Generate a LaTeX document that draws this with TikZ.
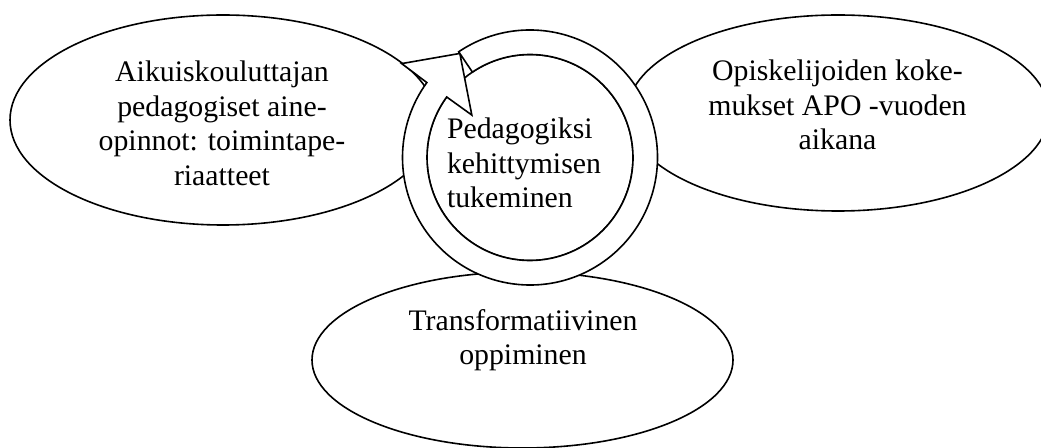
\documentclass[tikz,border=0pt]{standalone}
\usepackage{fontspec}
\setmainfont{Liberation Serif}
\usetikzlibrary{shapes.geometric}

\begin{document}
\begin{tikzpicture}[x=1pt,y=1pt,inner sep=0pt,outer sep=0pt,line width=1.6pt,
bubble/.style={draw,ellipse,fill=white},
caption/.style={align=center,font=\fontsize{29.8}{34.5}\selectfont}]

\useasboundingbox (0,0) rectangle (1041,447);
\clip (0,0) rectangle (1041,447);

\node[bubble,minimum width=426,minimum height=210] (adult) at (223,327) {};
\node[bubble,minimum width=422,minimum height=196] (student) at (838,334) {};
\node[bubble,minimum width=421,minimum height=176] (transform) at (522.5,87) {};

\node[caption] (adulttext) at (222,323.5) {Aikuiskouluttajan\\pedagogiset aine-\\opinnot: toimintape-\\riaatteet};
\node[caption] (studenttext) at (837.5,342) {Opiskelijoiden koke-\\mukset APO -vuoden\\aikana};
\node[caption] (transformtext) at (523,107) {Transformatiivinen\\oppiminen};

% circular arrow round the core
\node[draw,circle,fill=white,minimum size=206] (core) at (530,289.5) {};
\draw[fill=white] ([shift={(124:127.5)}]core.center) arc[start angle=124,end angle=-216,radius=127.5]
  -- ([shift={(143.8:159)}]core.center) -- ([shift={(124:125.5)}]core.center)
  -- ([shift={(143.9:72)}]core.center) -- ([shift={(144:103)}]core.center)
  arc[start angle=-216,end angle=124,radius=103] -- cycle;

\node[caption,align=left,anchor=west] (coretext) at (447,284) {Pedagogiksi\\kehittymisen\\tukeminen};
\end{tikzpicture}
\end{document}
